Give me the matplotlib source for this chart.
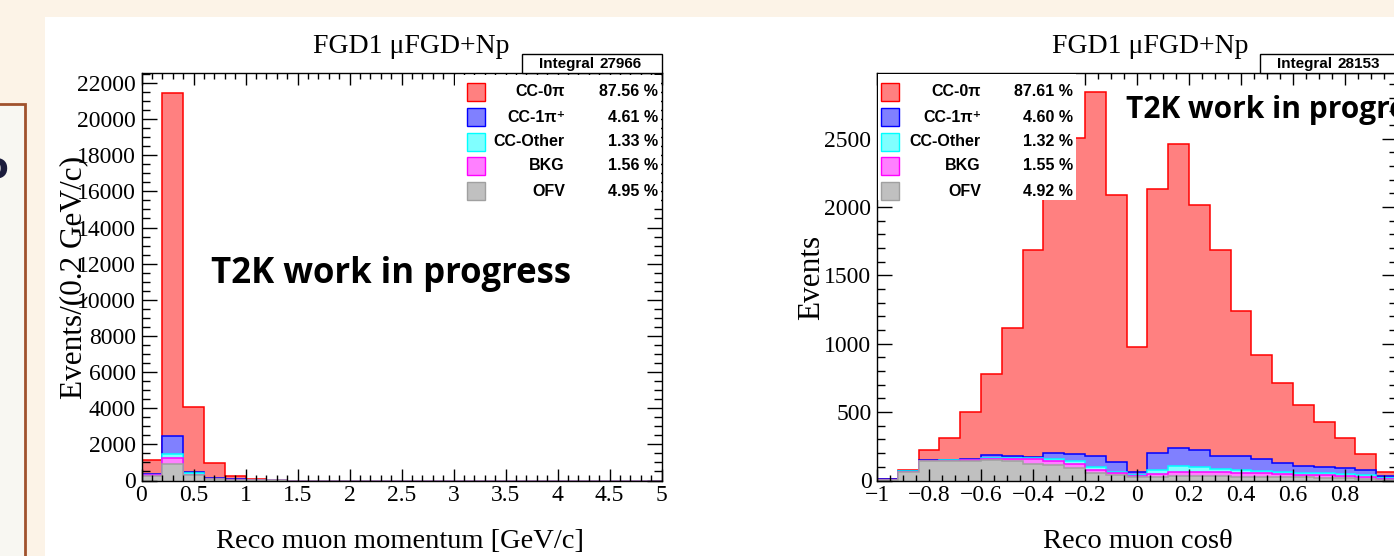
import numpy as np
import matplotlib
matplotlib.use("Agg")
import matplotlib.pyplot as plt
from matplotlib.patches import Rectangle
from matplotlib.ticker import MultipleLocator, FuncFormatter

# ---------------- data ----------------
mom_edges = np.round(np.arange(0, 5.0001, 0.2), 3)          # 25 bins, GeV/c
mom_ofv   = [250, 900, 280, 60, 10, 3, 1] + [0] * 18
mom_bkg   = [50, 333, 40, 15, 5, 2, 1] + [0] * 18
mom_other = [15, 243, 70, 30, 10, 5, 2] + [0] * 18
mom_cc1pi = [40, 1014, 92, 10, 35, 10, 5] + [0] * 18
mom_cc0pi = [795, 18960, 3598, 845, 170, 45, 22] + [0] * 18

cos_edges = np.round(np.linspace(-1, 1, 26), 3)              # 25 bins
cos_ofv   = [4, 62, 140, 140, 142, 149, 141, 120, 113, 95, 57, 40, 28,
             28, 32, 32, 30, 28, 26, 24, 22, 20, 18, 14, 7]
cos_bkg   = [1, 2, 3, 4, 5, 11, 19, 34, 31, 25, 19, 13, 5,
             17, 32, 32, 30, 27, 27, 24, 20, 18, 16, 14, 7]
cos_other = [0, 2, 3, 4, 5, 8, 6, 8, 11, 24, 24, 11, 7,
             31, 41, 36, 21, 20, 17, 17, 16, 14, 12, 10, 4]
cos_cc1pi = [3, 4, 4, 4, 6, 17, 12, 11, 47, 49, 78, 73, 19,
             122, 136, 126, 100, 106, 88, 65, 47, 46, 46, 42, 12]
cos_cc0pi = [2, 8, 76, 160, 344, 595, 934, 1514, 1856, 2312, 2665, 1950, 918,
             1933, 2220, 1786, 1501, 1059, 762, 582, 449, 333, 220, 115, 30]

categories = ["CC-0\u03c0", "CC-1\u03c0\u207a", "CC-Other", "BKG", "OFV"]
mom_pct = ["87.56 %", "4.61 %", "1.33 %", "1.56 %", "4.95 %"]
cos_pct = ["87.61 %", "4.60 %", "1.32 %", "1.55 %", "4.92 %"]
mom_integral = "27966"
cos_integral = "28153"

faces = ["#FF8080", "#8080FF", "#80FFFF", "#FF80FF", "#C0C0C0"]
edges_c = ["#FF0000", "#0000FF", "#00FFFF", "#FF00FF", "#A0A0A0"]

# ---------------- figure ----------------
W, H = 1394, 556
plt.rcParams["font.family"] = ["Liberation Serif", "DejaVu Serif"]
plt.rcParams["axes.unicode_minus"] = True
fig = plt.figure(figsize=(W / 100, H / 100), dpi=100)
fig.patch.set_facecolor("#FCF3E7")


def fx(x):
    return x / W


def fy(y):
    return 1 - y / H


def frect(x0, y0, x1, y1, **kw):
    r = Rectangle((fx(x0), fy(y1)), fx(x1) - fx(x0), fy(y0) - fy(y1),
                  transform=fig.transFigure, **kw)
    fig.add_artist(r)
    return r


SANS = ["Liberation Sans", "DejaVu Sans"]

# slide decorations
frect(44.5, 16.5, 1400, 600, facecolor="white", edgecolor="none", zorder=-10)
frect(-10, 104, 25, 600, facecolor="#F8F7F2", edgecolor="#A0522D", lw=2.0, zorder=-9)
fig.text(fx(8.5), fy(177), "o", ha="right", va="baseline", fontsize=26,
         fontweight="bold", family=["DejaVu Sans"], color="#1C1C3C")

AX_TOP, AX_BOT = 73, 480.5
axL = fig.add_axes([fx(141.5), fy(AX_BOT), 520 / W, (AX_BOT - AX_TOP) / H])
axR = fig.add_axes([fx(877), fy(AX_BOT), 520 / W, (AX_BOT - AX_TOP) / H])


def draw_stack(ax, edges, comps):
    # comps bottom -> top: OFV, BKG, Other, CC1pi, CC0pi
    cum = np.cumsum(np.array(comps, dtype=float), axis=0)
    order = [4, 3, 2, 1, 0]  # colour index for bottom->top components
    for i in reversed(range(len(comps))):
        ci = order[i]
        ax.stairs(cum[i], edges, baseline=0, fill=True,
                  facecolor=faces[ci], edgecolor=edges_c[ci], linewidth=1.1,
                  zorder=1 + (len(comps) - i) * 0.01)


def fmt(v, p):
    if abs(v) < 1e-9:
        return "0"
    return ("%g" % v).replace("-", "\u2212")


def style_axes(ax, xmaj, xmin, ymaj, ymin):
    ax.xaxis.set_major_locator(MultipleLocator(xmaj))
    ax.xaxis.set_minor_locator(MultipleLocator(xmin))
    ax.yaxis.set_major_locator(MultipleLocator(ymaj))
    ax.yaxis.set_minor_locator(MultipleLocator(ymin))
    ax.tick_params(which="both", direction="in", top=True, right=True,
                   labelsize=17, width=1.0, color="black")
    ax.xaxis.set_tick_params(which="major", length=8.6, pad=3.5)
    ax.xaxis.set_tick_params(which="minor", length=4.3)
    ax.yaxis.set_tick_params(which="major", length=10.5, pad=4)
    ax.yaxis.set_tick_params(which="minor", length=5.5)
    for s in ax.spines.values():
        s.set_linewidth(1.0)
        s.set_zorder(3)


# left histogram
draw_stack(axL, mom_edges, [mom_ofv, mom_bkg, mom_other, mom_cc1pi, mom_cc0pi])
axL.set_xlim(0, 5)
axL.set_ylim(0, 22550)
style_axes(axL, 0.5, 0.1, 2000, 500)
axL.xaxis.set_major_formatter(FuncFormatter(fmt))
axL.yaxis.set_major_formatter(FuncFormatter(fmt))

# right histogram
draw_stack(axR, cos_edges, [cos_ofv, cos_bkg, cos_other, cos_cc1pi, cos_cc0pi])
axR.set_xlim(-1, 1)
axR.set_ylim(0, 2980)
style_axes(axR, 0.2, 0.05, 500, 100)
axR.xaxis.set_major_formatter(FuncFormatter(lambda v, p: "" if v > 0.99 else fmt(v, p)))
axR.yaxis.set_major_formatter(FuncFormatter(fmt))

# titles and axis titles
fig.text(fx(411), fy(53), "FGD1 \u03bcFGD+Np", ha="center", va="baseline", fontsize=20)
fig.text(fx(1150), fy(53), "FGD1 \u03bcFGD+Np", ha="center", va="baseline", fontsize=20)
fig.text(fx(400), fy(548), "Reco muon momentum [GeV/c]", ha="center", va="baseline",
         fontsize=20.5)
fig.text(fx(1138), fy(548), "Reco muon cos\u03b8", ha="center", va="baseline", fontsize=20.5)
fig.text(fx(74), fy(277), "Events/(0.2 GeV/c)", ha="center", va="center",
         rotation=90, fontsize=22.5)
fig.text(fx(812), fy(277), "Events", ha="center", va="center", rotation=90,
         fontsize=22.5)

# stats boxes
frect(522, 54, 661.5, 73, facecolor="white", edgecolor="black", lw=1.0, zorder=4)
fig.text(fx(539), fy(64), "Integral", ha="left", va="center", fontsize=11,
         fontweight="bold", family=SANS, zorder=5)
fig.text(fx(642), fy(64), mom_integral, ha="right", va="center", fontsize=11,
         fontweight="bold", family=SANS, zorder=5)
frect(1260, 54, 1420, 73, facecolor="white", edgecolor="black", lw=1.0, zorder=4)
fig.text(fx(1277), fy(64), "Integral", ha="left", va="center", fontsize=11,
         fontweight="bold", family=SANS, zorder=5)
fig.text(fx(1380), fy(64), cos_integral, ha="right", va="center", fontsize=11,
         fontweight="bold", family=SANS, zorder=5)

# legends
rows_y = [92, 117, 142, 166, 191]


def legend(bg, xbox, xlab, xpct, pcts):
    frect(*bg, facecolor="white", edgecolor="none", zorder=4)
    for k in range(5):
        y = rows_y[k]
        frect(xbox, y - 9, xbox + 18, y + 9, facecolor=faces[k],
              edgecolor=edges_c[k], lw=1.0, zorder=5)
        fig.text(fx(xlab), fy(y), categories[k], ha="right", va="center",
                 fontsize=11.5, fontweight="bold", family=SANS, zorder=6)
        fig.text(fx(xpct), fy(y), pcts[k], ha="right", va="center",
                 fontsize=11.5, fontweight="bold", family=SANS, zorder=6)


legend((455, 74.5, 660.5, 203), 467, 565, 658, mom_pct)
legend((878, 74.5, 1076, 200), 881, 981, 1073, cos_pct)

# watermark text
fig.text(fx(211), fy(283), "T2K work in progress", ha="left", va="baseline",
         fontsize=25, fontweight="bold", family=["Open Sans", "DejaVu Sans"], zorder=7)
fig.text(fx(1126), fy(118), "T2K work in progress", ha="left", va="baseline",
         fontsize=21.5, fontweight="bold", family=["Open Sans", "DejaVu Sans"], zorder=7)

fig.savefig("out.png", dpi=100, facecolor=fig.get_facecolor())
